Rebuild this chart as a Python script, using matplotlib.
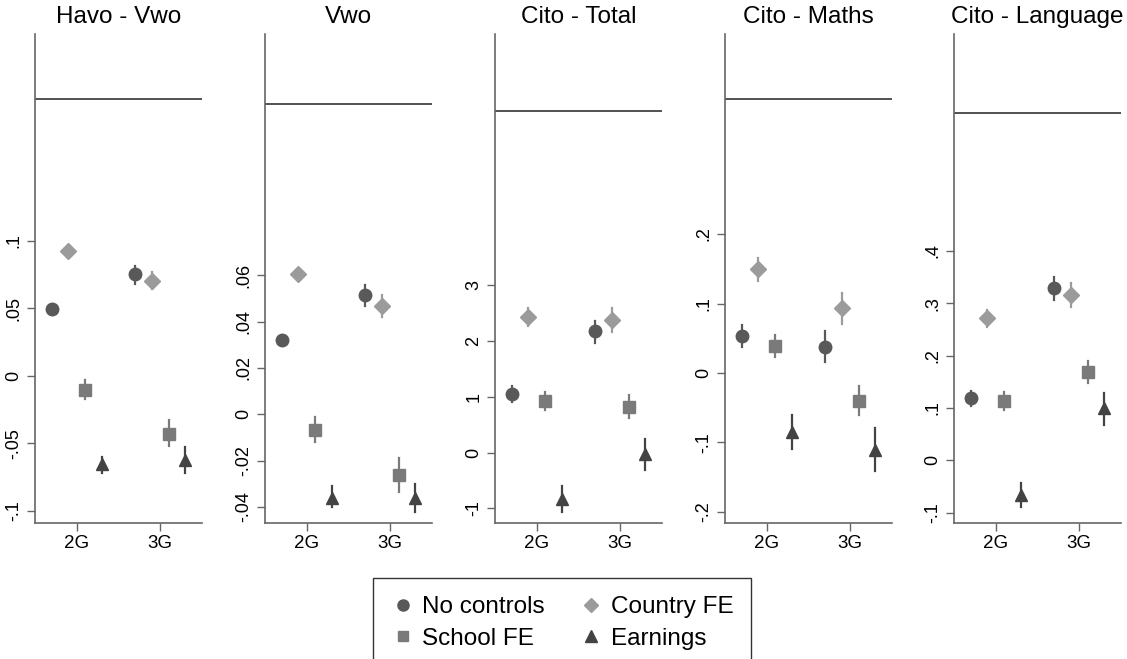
import matplotlib
matplotlib.use("Agg")
import matplotlib.pyplot as plt
from matplotlib.lines import Line2D

plt.rcParams['font.family'] = ['Liberation Sans', 'DejaVu Sans']

# panel titles and axis setup
titles = ["Havo - Vwo", "Vwo", "Cito - Total", "Cito - Maths", "Cito - Language"]
generations = ["2G", "3G"]
series = ["No controls", "Country FE", "School FE", "Earnings"]

# y ticks per panel
yticks = [
    [-0.1, -0.05, 0, 0.05, 0.1],
    [-0.04, -0.02, 0, 0.02, 0.04, 0.06],
    [-1, 0, 1, 2, 3],
    [-0.2, -0.1, 0, 0.1, 0.2],
    [-0.1, 0, 0.1, 0.2, 0.3, 0.4],
]
ytick_labels = [
    ["-.1", "-.05", "0", ".05", ".1"],
    ["-.04", "-.02", "0", ".02", ".04", ".06"],
    ["-1", "0", "1", "2", "3"],
    ["-.2", "-.1", "0", ".1", ".2"],
    ["-.1", "0", ".1", ".2", ".3", ".4"],
]
ylims = [(-0.109, 0.253), (-0.0469, 0.164), (-1.26, 7.49), (-0.216, 0.488), (-0.12, 0.815)]
ref_line = [0.205, 0.134, 6.11, 0.395, 0.664]

# estimates: [panel][series] -> (2G, 3G)
est = [
    {"No controls": (0.0496, 0.075), "Country FE": (0.092, 0.070),
     "School FE": (-0.0103, -0.043), "Earnings": (-0.065, -0.062)},
    {"No controls": (0.032, 0.0514), "Country FE": (0.0604, 0.0467),
     "School FE": (-0.0067, -0.026), "Earnings": (-0.036, -0.036)},
    {"No controls": (1.045, 2.17), "Country FE": (2.42, 2.38),
     "School FE": (0.92, 0.82), "Earnings": (-0.83, -0.03)},
    {"No controls": (0.0536, 0.038), "Country FE": (0.149, 0.093),
     "School FE": (0.039, -0.040), "Earnings": (-0.0856, -0.111)},
    {"No controls": (0.1185, 0.329), "Country FE": (0.272, 0.316),
     "School FE": (0.114, 0.169), "Earnings": (-0.067, 0.099)},
]
# confidence intervals: [panel][series] -> ((lo, hi) 2G, (lo, hi) 3G)
ci = [
    {"No controls": ((0.048, 0.051), (0.068, 0.081)), "Country FE": ((0.091, 0.093), (0.064, 0.077)),
     "School FE": ((-0.0172, -0.0034), (-0.052, -0.033)), "Earnings": ((-0.072, -0.060), (-0.072, -0.053))},
    {"No controls": ((0.031, 0.033), (0.0467, 0.0557)), "Country FE": ((0.0595, 0.0613), (0.0418, 0.0514)),
     "School FE": ((-0.012, -0.0012), (-0.0334, -0.0187)), "Earnings": ((-0.040, -0.031), (-0.0423, -0.0299))},
    {"No controls": ((0.90, 1.19), (1.96, 2.36)), "Country FE": ((2.26, 2.58), (2.15, 2.58)),
     "School FE": ((0.77, 1.08), (0.62, 1.03)), "Earnings": ((-1.07, -0.60), (-0.32, 0.24))},
    {"No controls": ((0.038, 0.069), (0.016, 0.060)), "Country FE": ((0.132, 0.165), (0.070, 0.115)),
     "School FE": ((0.023, 0.055), (-0.061, -0.0186)), "Earnings": ((-0.109, -0.061), (-0.141, -0.079))},
    {"No controls": ((0.104, 0.132), (0.306, 0.351)), "Country FE": ((0.255, 0.288), (0.293, 0.339)),
     "School FE": ((0.097, 0.131), (0.147, 0.190)), "Earnings": ((-0.090, -0.043), (0.068, 0.129))},
]

style = {
    "No controls": dict(marker="o", color="#595959", ms=9, offset=-0.3),
    "Country FE": dict(marker="D", color="#9b9b9b", ms=8, offset=-0.1),
    "School FE": dict(marker="s", color="#7a7a7a", ms=8, offset=0.1),
    "Earnings": dict(marker="^", color="#434343", ms=9, offset=0.3),
}

fig = plt.figure(figsize=(11.27, 6.59), dpi=100)
lefts = [35, 265, 495, 725, 954]
W, H = 1127, 659

for i, title in enumerate(titles):
    ax = fig.add_axes([lefts[i] / W, 1 - 523 / H, 167 / W, (523 - 34) / H])
    for name in series:
        st = style[name]
        for g in range(2):
            x = g + 1 + st["offset"]
            lo, hi = ci[i][name][g]
            ax.plot([x, x], [lo, hi], color=st["color"], lw=1.6, zorder=2)
            ax.plot(x, est[i][name][g], marker=st["marker"], color=st["color"],
                    ms=st["ms"], ls="none", zorder=3)
    ax.axhline(ref_line[i], color="#222222", lw=1.1)
    ax.set_xlim(0.5, 2.5)
    ax.set_ylim(*ylims[i])
    ax.set_xticks([1, 2])
    ax.set_xticklabels(generations, fontsize=13.5)
    ax.set_yticks(yticks[i])
    ax.set_yticklabels(ytick_labels[i], fontsize=13, rotation=90, va="center")
    ax.spines["top"].set_visible(False)
    ax.spines["right"].set_visible(False)
    for s in ["left", "bottom"]:
        ax.spines[s].set_color("#666666")
        ax.spines[s].set_linewidth(1.2)
    ax.tick_params(axis="both", length=6, width=1, color="#666666", pad=3)
    ax.set_title(title, fontsize=17.5, pad=8)

handles = []
for name in ["No controls", "School FE", "Country FE", "Earnings"]:
    st = style[name]
    handles.append(Line2D([], [], marker=st["marker"], color=st["color"], ls="none",
                          ms=st["ms"] - 1, label=name))
leg = fig.legend(handles=handles, loc="upper center", bbox_to_anchor=(562 / W, 1 - 578 / H),
                 ncol=2, fontsize=17.5, frameon=True, fancybox=False, edgecolor="black",
                 handletextpad=0.3, columnspacing=1.4, borderpad=0.75, labelspacing=0.4,
                 handlelength=1.0, borderaxespad=0)
leg.get_frame().set_linewidth(1.0)

fig.savefig("out.png", dpi=100)
